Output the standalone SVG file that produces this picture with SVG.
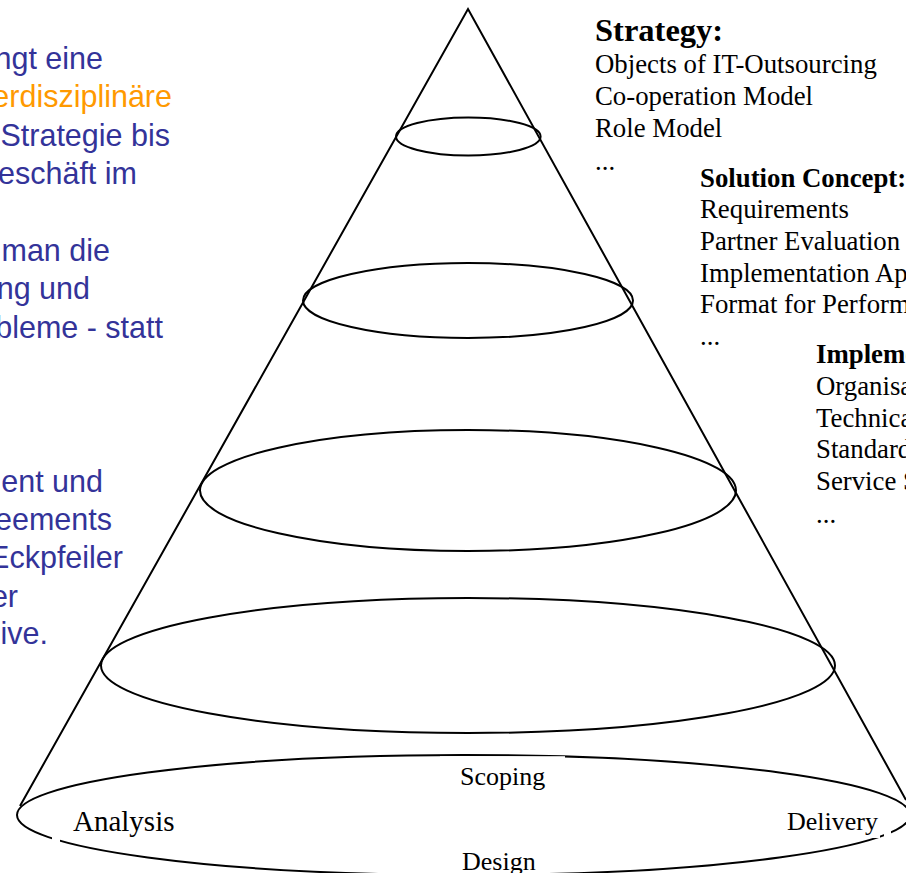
<svg xmlns="http://www.w3.org/2000/svg" width="906" height="873" viewBox="0 0 906 873">
<style>
.shape{fill:none;stroke:#000;stroke-width:2}
.de{font-family:"Liberation Sans",Arial,sans-serif;font-size:30.5px;fill:#333399;text-anchor:end}
.or{fill:#FF9900}
.rt{font-family:"Liberation Serif","Times New Roman",serif;font-size:26.8px;fill:#000}
.b{font-weight:bold}
.lbl{font-family:"Liberation Serif","Times New Roman",serif;font-size:26px;fill:#000}
</style>
<rect width="906" height="873" fill="#fff"/>
<g id="left-text">
<text class="de" x="103" y="69">ngt eine</text>
<text class="de or" x="172" y="107">erdisziplinäre</text>
<text class="de" x="170" y="146">Strategie bis</text>
<text class="de" x="137" y="184">eschäft im</text>
<text class="de" x="110" y="261">man die</text>
<text class="de" x="90" y="299">ng und</text>
<text class="de" x="163" y="338">bleme - statt</text>
<text class="de" x="103" y="492">ent und</text>
<text class="de" x="112" y="530">eements</text>
<text class="de" x="123" y="568">Eckpfeiler</text>
<text class="de" x="18" y="607">er</text>
<text class="de" x="48" y="644">ive.</text>
</g>
<g id="cone">
<polyline class="shape" points="20,806 468,9 906,800"/>
<ellipse id="level1" class="shape" cx="468.3" cy="136.5" rx="72.3" ry="19"/>
<ellipse id="level2" class="shape" cx="468" cy="300.5" rx="165" ry="37.5"/>
<ellipse id="level3" class="shape" cx="468" cy="490.5" rx="268" ry="60.5"/>
<ellipse id="level4" class="shape" cx="468" cy="665.5" rx="367" ry="67.5"/>
<ellipse id="base" class="shape" cx="463.5" cy="815" rx="446.5" ry="60"/>
<rect x="440" y="756.2" width="125" height="36" fill="#fff"/>
<rect x="52" y="835" width="8" height="10" fill="#fff"/>
<rect x="870" y="826" width="10" height="12" fill="#fff"/>
<rect x="884" y="826" width="7" height="12" fill="#fff"/>
</g>
<g id="base-labels">
<text class="lbl" x="73" y="831" style="font-size:29px">Analysis</text>
<text class="lbl" x="460" y="785">Scoping</text>
<text class="lbl" x="787" y="830">Delivery</text>
<text class="lbl" x="462" y="870">Design</text>
</g>
<g id="strategy">
<text class="rt b" x="595" y="41" style="font-size:32.5px">Strategy:</text>
<text class="rt" x="595" y="73">Objects of IT-Outsourcing</text>
<text class="rt" x="595" y="105">Co-operation Model</text>
<text class="rt" x="595" y="137">Role Model</text>
<text class="rt" x="595" y="170">...</text>
</g>
<g id="solution-concept">
<text class="rt b" x="700" y="187">Solution Concept:</text>
<text class="rt" x="700" y="218">Requirements</text>
<text class="rt" x="700" y="250">Partner Evaluation</text>
<text class="rt" x="700" y="282">Implementation Ap</text>
<text class="rt" x="700" y="313">Format for Perform</text>
<text class="rt" x="700" y="345">...</text>
</g>
<g id="implementation">
<text class="rt b" x="816" y="363">Impleme</text>
<text class="rt" x="816" y="395">Organisa</text>
<text class="rt" x="816" y="427">Technica</text>
<text class="rt" x="816" y="458">Standard</text>
<text class="rt" x="816" y="490">Service S</text>
<text class="rt" x="816" y="523">...</text>
</g>
</svg>
